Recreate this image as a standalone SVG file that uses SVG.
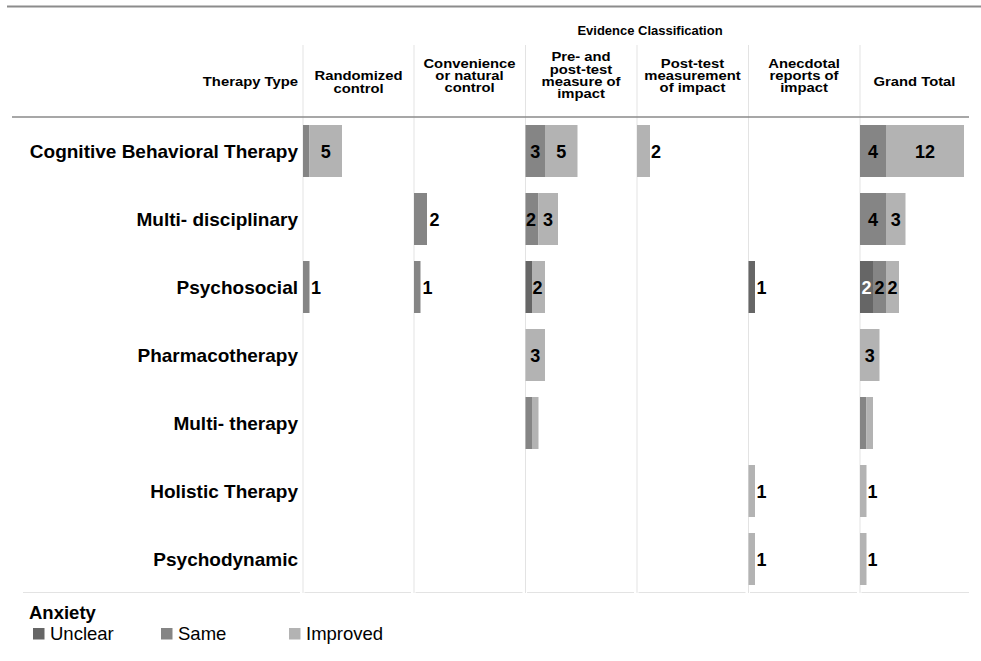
<svg xmlns="http://www.w3.org/2000/svg" width="981" height="661" viewBox="0 0 981 661">
<style>
text{font-family:"Liberation Sans",Arial,sans-serif;fill:#000}
.hd{font-size:13px;font-weight:bold;text-anchor:middle}
.ev{font-size:13px;font-weight:bold;text-anchor:middle}
.rl{font-size:19px;font-weight:bold;text-anchor:end}
.n{font-size:18px;font-weight:bold;text-anchor:middle}
.no{font-size:18px;font-weight:bold;text-anchor:start}
.w{fill:#fff}
.u{fill:#666666}
.s{fill:#858585}
.i{fill:#b3b3b3}
.grid{stroke:#e3e3e3;stroke-width:1;fill:none}
.lg{font-size:18.5px}
</style>
<rect width="981" height="661" fill="#fff"/>
<line x1="7" y1="6.5" x2="981" y2="6.5" stroke="#8c8c8c" stroke-width="2"/>
<g id="header">
<text class="ev" x="650" y="34.5">Evidence Classification</text>
<g transform="scale(1.14 1)">
<text class="hd" x="261.40" y="86.3" style="text-anchor:end">Therapy Type</text>
<text class="hd" x="314.47" y="80.3">Randomized</text>
<text class="hd" x="314.47" y="92.6">control</text>
<text class="hd" x="411.84" y="67.8">Convenience</text>
<text class="hd" x="411.84" y="80.1">or natural</text>
<text class="hd" x="411.84" y="92.4">control</text>
<text class="hd" x="509.65" y="61.5">Pre- and</text>
<text class="hd" x="509.65" y="73.8">post-test</text>
<text class="hd" x="509.65" y="86.1">measure of</text>
<text class="hd" x="509.65" y="98.4">impact</text>
<text class="hd" x="607.46" y="67.8">Post-test</text>
<text class="hd" x="607.46" y="80.1">measurement</text>
<text class="hd" x="607.46" y="92.4">of impact</text>
<text class="hd" x="705.26" y="67.8">Anecdotal</text>
<text class="hd" x="705.26" y="80.1">reports of</text>
<text class="hd" x="705.26" y="92.4">impact</text>
<text class="hd" x="802.19" y="86.3">Grand Total</text>
</g>
</g>
<g id="grid" class="grid">
<path d="M303 45V593M414 45V593M525.5 45V593M637 45V593M748.5 45V593M860 45V593"/>
<path d="M23 592.5H300M304.5 592.5H411M415.5 592.5H522.5M527 592.5H634M638.5 592.5H745.5M750 592.5H857M861.5 592.5H969"/>
</g>
<line x1="12" y1="117" x2="969" y2="117" stroke="#8a8a8a" stroke-width="1.5"/>
<g id="row-cbt">
<text class="rl" x="298" y="157.5">Cognitive Behavioral Therapy</text>
<rect class="s" x="303" y="125" width="6.5" height="52"/>
<rect class="i" x="309.5" y="125" width="32.5" height="52"/>
<text class="n" x="325.75" y="157.5">5</text>
<rect class="s" x="525.5" y="125" width="19.5" height="52"/>
<rect class="i" x="545" y="125" width="32.5" height="52"/>
<text class="n" x="535.25" y="157.5">3</text>
<text class="n" x="561.25" y="157.5">5</text>
<rect class="i" x="637" y="125" width="13" height="52"/>
<text class="no" x="651" y="157.5">2</text>
<rect class="s" x="860" y="125" width="26" height="52"/>
<rect class="i" x="886" y="125" width="78" height="52"/>
<text class="n" x="873" y="157.5">4</text>
<text class="n" x="925" y="157.5">12</text>
</g>
<g id="row-multi-disciplinary">
<text class="rl" x="298" y="225.5">Multi- disciplinary</text>
<rect class="s" x="414" y="193" width="13" height="52"/>
<text class="no" x="429.5" y="225.5">2</text>
<rect class="s" x="525.5" y="193" width="13" height="52"/>
<rect class="i" x="538.5" y="193" width="19.5" height="52"/>
<text class="n" x="531" y="225.5">2</text>
<text class="n" x="548" y="225.5">3</text>
<rect class="s" x="860" y="193" width="26" height="52"/>
<rect class="i" x="886" y="193" width="19.5" height="52"/>
<text class="n" x="873" y="225.5">4</text>
<text class="n" x="895.75" y="225.5">3</text>
</g>
<g id="row-psychosocial">
<text class="rl" x="298" y="293.5">Psychosocial</text>
<rect class="s" x="303" y="261" width="6.5" height="52"/>
<text class="no" x="311" y="293.5">1</text>
<rect class="s" x="414" y="261" width="6.5" height="52"/>
<text class="no" x="422.5" y="293.5">1</text>
<rect class="u" x="525.5" y="261" width="6.5" height="52"/>
<rect class="i" x="532" y="261" width="13" height="52"/>
<text class="n" x="537.5" y="293.5">2</text>
<rect class="u" x="748.5" y="261" width="6.5" height="52"/>
<text class="no" x="756.5" y="293.5">1</text>
<rect class="u" x="860" y="261" width="13" height="52"/>
<rect class="s" x="873" y="261" width="13" height="52"/>
<rect class="i" x="886" y="261" width="13" height="52"/>
<text class="n w" x="866.5" y="293.5">2</text>
<text class="n" x="879.5" y="293.5">2</text>
<text class="n" x="892.5" y="293.5">2</text>
</g>
<g id="row-pharmacotherapy">
<text class="rl" x="298" y="361.5">Pharmacotherapy</text>
<rect class="i" x="525.5" y="329" width="19.5" height="52"/>
<text class="n" x="535.25" y="361.5">3</text>
<rect class="i" x="860" y="329" width="19.5" height="52"/>
<text class="n" x="869.75" y="361.5">3</text>
</g>
<g id="row-multi-therapy">
<text class="rl" x="298" y="429.5">Multi- therapy</text>
<rect class="s" x="525.5" y="397" width="6.5" height="52"/>
<rect class="i" x="532" y="397" width="6.5" height="52"/>
<rect class="s" x="860" y="397" width="6.5" height="52"/>
<rect class="i" x="866.5" y="397" width="6.5" height="52"/>
</g>
<g id="row-holistic">
<text class="rl" x="298" y="497.5">Holistic Therapy</text>
<rect class="i" x="748.5" y="465" width="6.5" height="52"/>
<text class="no" x="756.5" y="497.5">1</text>
<rect class="i" x="860" y="465" width="6.5" height="52"/>
<text class="no" x="867.5" y="497.5">1</text>
</g>
<g id="row-psychodynamic">
<text class="rl" x="298" y="565.5">Psychodynamic</text>
<rect class="i" x="748.5" y="533" width="6.5" height="52"/>
<text class="no" x="756.5" y="565.5">1</text>
<rect class="i" x="860" y="533" width="6.5" height="52"/>
<text class="no" x="867.5" y="565.5">1</text>
</g>
<g id="legend">
<text x="29" y="619" style="font-size:18.5px;font-weight:bold">Anxiety</text>
<rect class="u" x="33" y="628" width="11.5" height="11.5"/>
<text class="lg" x="50" y="640">Unclear</text>
<rect class="s" x="161" y="628" width="11.5" height="11.5"/>
<text class="lg" x="178" y="640">Same</text>
<rect class="i" x="289" y="628" width="11.5" height="11.5"/>
<text class="lg" x="306" y="640">Improved</text>
</g>
</svg>
